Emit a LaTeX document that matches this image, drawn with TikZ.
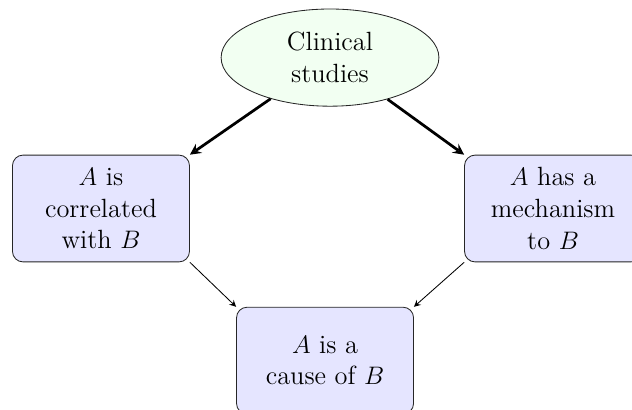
\documentclass[tikz,border=0pt]{standalone}
\usepackage{amsmath, amssymb}
\usepackage{tikz}
\usetikzlibrary{shapes.geometric}

\tikzset{
  claim/.style={draw=black!85, fill=blue!10, rounded corners=5pt, align=center,
    minimum width=2.95cm, minimum height=1.78cm, inner sep=0pt,
    font=\fontsize{12.5}{15}\selectfont},
  source/.style={draw=black!85, fill=green!5, ellipse, align=center,
    minimum width=3.63cm, minimum height=1.62cm, inner sep=0pt,
    font=\fontsize{12.5}{15}\selectfont}
}

\begin{document}
\begin{tikzpicture}[scale=1,>=stealth]
  \path[use as bounding box, clip] (0,0) rectangle (10.533,-6.833);
  \node[source]  at (5.5,-0.96) (clin) {Clinical\\studies};
  \node[claim]  at (1.683,-3.475) (corr) {$A$ is\\correlated\\with $B$};
  \node[claim]  at (9.217,-3.475) (mech) {$A$ has a\\mechanism\\to $B$};
  \node[claim]  at (5.417,-6.01) (cause) {$A$ is a\\cause of $B$};
  \draw[->, line width=1.3pt] (clin) -- (corr.north east);
  \draw[->, line width=1.3pt] (clin) -- (mech.north west);
  \draw[->, thin] (corr.south east) -- (cause.north west);
  \draw[->, thin] (mech.south west) -- (cause.north east);
\end{tikzpicture}
\end{document}
